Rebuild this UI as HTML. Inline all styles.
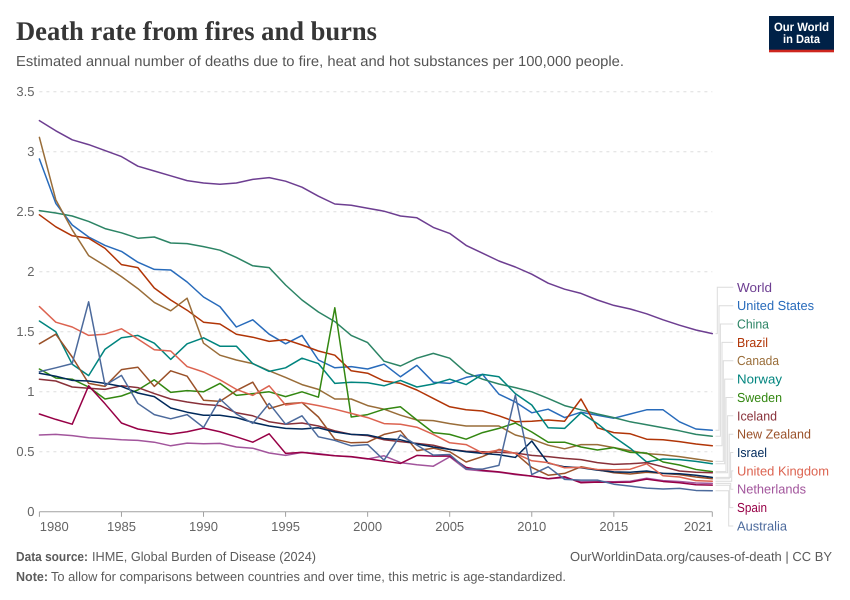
<!DOCTYPE html>
<html lang="en">
<head>
<meta charset="utf-8">
<title>Death rate from fires and burns</title>
<style>
html,body{margin:0;padding:0;background:#fff;}
svg{display:block;font-family:"Liberation Sans",sans-serif;text-rendering:geometricPrecision;}
</style>
</head>
<body>
<svg id="chart" xmlns="http://www.w3.org/2000/svg" width="850" height="600" viewBox="0 0 850 600">
  <rect width="850" height="600" fill="#fff"/>
  <text x="16" y="40" font-family="'Liberation Serif',serif" font-weight="700" font-size="27" fill="#363636" textLength="361" lengthAdjust="spacingAndGlyphs">Death rate from fires and burns</text>
  <text x="16" y="66" font-size="14.5" fill="#555" textLength="608" lengthAdjust="spacingAndGlyphs">Estimated annual number of deaths due to fire, heat and hot substances per 100,000 people.</text>

  <g>
    <rect x="769" y="16" width="65" height="36" fill="#002147"/>
    <rect x="769" y="49.7" width="65" height="2.6" fill="#CE261E"/>
    <text x="801.5" y="31" text-anchor="middle" font-size="12" font-weight="700" fill="#fff" textLength="55" lengthAdjust="spacingAndGlyphs">Our World</text>
    <text x="801.5" y="43" text-anchor="middle" font-size="12" font-weight="700" fill="#fff" textLength="37" lengthAdjust="spacingAndGlyphs">in Data</text>
  </g>

  <g id="grid"></g>
  <g id="yticks"></g>
  <g id="xaxis"></g>
  <g id="connectors" fill="none" stroke="#dcdcdc" stroke-width="1"></g>
  <g id="lines" fill="none" stroke-width="1.5" stroke-linejoin="round" stroke-linecap="round"></g>

  <g font-size="13">
    <text x="737" y="291.8" fill="#6D3E91" textLength="35" lengthAdjust="spacingAndGlyphs">World</text>
    <text x="737" y="310.2" fill="#286BBB" textLength="77" lengthAdjust="spacingAndGlyphs">United States</text>
    <text x="737" y="328.5" fill="#2C8465" textLength="32" lengthAdjust="spacingAndGlyphs">China</text>
    <text x="737" y="346.9" fill="#B13507" textLength="31" lengthAdjust="spacingAndGlyphs">Brazil</text>
    <text x="737" y="365.2" fill="#996D39" textLength="42" lengthAdjust="spacingAndGlyphs">Canada</text>
    <text x="737" y="383.6" fill="#00847E" textLength="45" lengthAdjust="spacingAndGlyphs">Norway</text>
    <text x="737" y="401.9" fill="#338711" textLength="45" lengthAdjust="spacingAndGlyphs">Sweden</text>
    <text x="737" y="420.3" fill="#883039" textLength="40" lengthAdjust="spacingAndGlyphs">Iceland</text>
    <text x="737" y="438.7" fill="#9A5129" textLength="74" lengthAdjust="spacingAndGlyphs">New Zealand</text>
    <text x="737" y="457" fill="#00295B" textLength="30" lengthAdjust="spacingAndGlyphs">Israel</text>
    <text x="737" y="475.4" fill="#DC6350" textLength="92" lengthAdjust="spacingAndGlyphs">United Kingdom</text>
    <text x="737" y="493.7" fill="#A2559C" textLength="69" lengthAdjust="spacingAndGlyphs">Netherlands</text>
    <text x="737" y="512.1" fill="#970046" textLength="30" lengthAdjust="spacingAndGlyphs">Spain</text>
    <text x="737" y="530.4" fill="#4C6A9C" textLength="50" lengthAdjust="spacingAndGlyphs">Australia</text>
  </g>

  <g font-size="13" fill="#5b5b5b">
    <text x="16" y="561" font-weight="700" textLength="72" lengthAdjust="spacingAndGlyphs">Data source:</text>
    <text x="92" y="561" textLength="224" lengthAdjust="spacingAndGlyphs">IHME, Global Burden of Disease (2024)</text>
    <text x="570" y="561" textLength="262" lengthAdjust="spacingAndGlyphs">OurWorldinData.org/causes-of-death | CC BY</text>
    <text x="16" y="581" font-weight="700" textLength="32" lengthAdjust="spacingAndGlyphs">Note:</text>
    <text x="51" y="581" textLength="515" lengthAdjust="spacingAndGlyphs">To allow for comparisons between countries and over time, this metric is age-standardized.</text>
  </g>
</svg>
<script>
const startYear = 1980;
const endYear = 2021;
const xTickYears = [1980, 1985, 1990, 1995, 2000, 2005, 2010, 2015, 2021];
const yTickValues = [0, 0.5, 1, 1.5, 2, 2.5, 3, 3.5];
const yTickLabels = ["0", "0.5", "1", "1.5", "2", "2.5", "3", "3.5"];

const world = [3.26,3.175,3.10,3.06,3.01,2.96,2.88,2.84,2.80,2.76,
  2.74,2.73,2.74,2.77,2.785,2.755,2.705,2.63,2.565,2.555,
  2.53,2.505,2.465,2.45,2.37,2.32,2.22,2.155,2.09,2.04,
  1.98,1.905,1.855,1.82,1.765,1.72,1.69,1.65,1.60,1.555,1.515,1.485];
const unitedStates = [2.94,2.57,2.39,2.29,2.22,2.17,2.08,2.02,2.015,1.915,
  1.79,1.71,1.54,1.60,1.48,1.40,1.47,1.265,1.20,1.21,
  1.19,1.23,1.125,1.22,1.08,1.07,1.12,1.145,0.98,0.915,
  0.825,0.855,0.785,0.83,0.805,0.78,0.815,0.85,0.85,0.75,0.69,0.68];
const china = [2.51,2.49,2.465,2.42,2.36,2.325,2.28,2.29,2.24,2.235,
  2.21,2.18,2.12,2.05,2.035,1.89,1.765,1.665,1.585,1.47,
  1.41,1.255,1.215,1.28,1.32,1.28,1.16,1.105,1.065,1.035,
  1.00,0.945,0.885,0.85,0.815,0.785,0.75,0.725,0.70,0.675,0.645,0.63];
const brazil = [2.475,2.375,2.30,2.28,2.195,2.06,2.035,1.865,1.765,1.68,
  1.58,1.565,1.48,1.455,1.42,1.435,1.39,1.34,1.305,1.175,
  1.155,1.09,1.07,1.015,0.945,0.875,0.85,0.84,0.80,0.75,
  0.755,0.765,0.755,0.94,0.70,0.66,0.65,0.605,0.60,0.585,0.565,0.55];
const canada = [3.12,2.60,2.35,2.135,2.05,1.96,1.86,1.745,1.675,1.78,
  1.405,1.305,1.265,1.235,1.175,1.12,1.06,1.02,0.94,0.94,
  0.885,0.855,0.805,0.765,0.76,0.735,0.715,0.715,0.715,0.64,
  0.605,0.555,0.525,0.56,0.56,0.535,0.51,0.485,0.475,0.46,0.44,0.42];
const norway = [1.59,1.50,1.23,1.135,1.355,1.45,1.47,1.405,1.27,1.40,
  1.45,1.38,1.38,1.235,1.17,1.20,1.28,1.235,1.07,1.08,
  1.075,1.05,1.095,1.04,1.065,1.105,1.06,1.145,1.125,0.985,
  0.89,0.70,0.695,0.825,0.735,0.625,0.53,0.415,0.44,0.435,0.42,0.40];
const sweden = [1.19,1.115,1.105,1.04,0.94,0.965,1.015,1.10,0.995,1.01,
  1.00,1.07,0.97,0.985,1.00,0.96,1.00,0.955,1.70,0.79,
  0.81,0.855,0.875,0.765,0.66,0.645,0.605,0.66,0.695,0.74,
  0.665,0.58,0.58,0.54,0.515,0.535,0.495,0.49,0.415,0.39,0.353,0.335];
const iceland = [1.105,1.09,1.04,1.03,1.02,1.05,1.035,0.985,0.94,0.915,
  0.895,0.885,0.825,0.80,0.75,0.73,0.74,0.715,0.675,0.645,
  0.635,0.60,0.585,0.57,0.555,0.52,0.505,0.50,0.495,0.49,
  0.47,0.46,0.445,0.435,0.41,0.395,0.40,0.41,0.375,0.34,0.33,0.325];
const newZealand = [1.40,1.48,1.29,1.07,1.045,1.185,1.205,1.045,1.175,1.13,
  0.93,0.92,1.01,1.08,0.86,0.90,0.91,0.79,0.605,0.575,
  0.58,0.645,0.675,0.51,0.53,0.50,0.415,0.46,0.52,0.487,
  0.37,0.305,0.32,0.375,0.35,0.325,0.315,0.33,0.32,0.31,0.29,0.275];
const israel = [1.155,1.13,1.095,1.09,1.07,1.045,0.99,0.96,0.865,0.83,
  0.805,0.805,0.785,0.745,0.715,0.695,0.69,0.70,0.665,0.645,
  0.64,0.61,0.60,0.565,0.54,0.52,0.50,0.487,0.475,0.453,
  0.59,0.405,0.375,0.367,0.347,0.333,0.33,0.34,0.32,0.317,0.305,0.287];
const unitedKingdom = [1.71,1.58,1.54,1.47,1.48,1.525,1.44,1.35,1.34,1.21,
  1.165,1.10,1.02,0.97,1.05,0.89,0.91,0.885,0.855,0.82,
  0.785,0.735,0.73,0.705,0.645,0.575,0.56,0.49,0.515,0.487,
  0.425,0.41,0.367,0.37,0.353,0.35,0.355,0.40,0.30,0.29,0.26,0.255];
const netherlands = [0.64,0.645,0.635,0.617,0.61,0.60,0.595,0.58,0.55,0.572,
  0.567,0.57,0.54,0.53,0.49,0.47,0.495,0.485,0.467,0.458,
  0.44,0.467,0.41,0.392,0.38,0.458,0.353,0.34,0.33,0.31,
  0.297,0.275,0.285,0.25,0.253,0.25,0.255,0.28,0.26,0.253,0.24,0.237];
const spain = [0.815,0.77,0.73,1.05,0.90,0.74,0.69,0.667,0.647,0.667,
  0.697,0.667,0.625,0.58,0.65,0.487,0.495,0.48,0.467,0.46,
  0.442,0.422,0.403,0.47,0.464,0.464,0.37,0.345,0.333,0.314,
  0.297,0.275,0.292,0.242,0.247,0.245,0.247,0.272,0.253,0.242,0.225,0.222];
const australia = [1.167,1.20,1.235,1.75,1.055,1.137,0.903,0.81,0.775,0.81,
  0.703,0.94,0.815,0.737,0.903,0.73,0.80,0.625,0.595,0.55,
  0.56,0.43,0.64,0.556,0.472,0.478,0.358,0.356,0.387,0.972,
  0.31,0.375,0.27,0.264,0.264,0.23,0.214,0.197,0.19,0.195,0.178,0.175];

const seriesNames = ["World","United States","China","Brazil","Canada","Norway","Sweden","Iceland","New Zealand","Israel","United Kingdom","Netherlands","Spain","Australia"];
const seriesValues = [world,unitedStates,china,brazil,canada,norway,sweden,iceland,newZealand,israel,unitedKingdom,netherlands,spain,australia];
const seriesColors = ["#6D3E91","#286BBB","#2C8465","#B13507","#996D39","#00847E","#338711","#883039","#9A5129","#00295B","#DC6350","#A2559C","#970046","#4C6A9C"];

const NS = "http://www.w3.org/2000/svg";
const plot = {left: 39.4, right: 712.3, bottom: 511.8, top: 91.8, maxY: 3.5};
function xScale(year) { return plot.left + (year - startYear) / (endYear - startYear) * (plot.right - plot.left); }
function yScale(v) { return plot.bottom - v / plot.maxY * (plot.bottom - plot.top); }
function make(tag, parent) { const el = document.createElementNS(NS, tag); parent.appendChild(el); return el; }
function slug(s) { return s.toLowerCase().replace(/\s+/g, "-"); }

const gridG = document.getElementById("grid");
const yG = document.getElementById("yticks");
yTickValues.forEach(function (v, i) {
  const y = yScale(v);
  if (v !== 0) {
    const g = make("line", gridG);
    
    
    g.setAttribute("x1", plot.left); g.setAttribute("x2", plot.right);
    g.setAttribute("y1", y); g.setAttribute("y2", y);
    g.setAttribute("stroke", "#dedede"); g.setAttribute("stroke-width", "1");
    g.setAttribute("stroke-dasharray", "3 4");
  }
  const t = make("text", yG);
  
  
  t.setAttribute("x", 34.5); t.setAttribute("y", y + 4.3);
  t.setAttribute("text-anchor", "end"); t.setAttribute("font-size", "13"); t.setAttribute("fill", "#666");
  t.textContent = yTickLabels[i];
});

const xG = document.getElementById("xaxis");
const axisLine = make("line", xG);


axisLine.setAttribute("x1", plot.left); axisLine.setAttribute("x2", plot.right);
axisLine.setAttribute("y1", plot.bottom); axisLine.setAttribute("y2", plot.bottom);
axisLine.setAttribute("stroke", "#a1a1a1"); axisLine.setAttribute("stroke-width", "1");
xTickYears.forEach(function (yr, i) {
  const x = xScale(yr);
  const tick = make("line", xG);
  
  
  tick.setAttribute("x1", x); tick.setAttribute("x2", x);
  tick.setAttribute("y1", plot.bottom); tick.setAttribute("y2", plot.bottom + 5);
  tick.setAttribute("stroke", "#a1a1a1"); tick.setAttribute("stroke-width", "1");
  const t = make("text", xG);
  
  
  const first = i === 0, last = i === xTickYears.length - 1;
  t.setAttribute("x", first ? x + 0.4 : last ? x + 0.5 : x);
  t.setAttribute("y", 531);
  t.setAttribute("text-anchor", first ? "start" : last ? "end" : "middle");
  t.setAttribute("font-size", "13"); t.setAttribute("fill", "#666");
  t.textContent = String(yr);
});

const connG = document.getElementById("connectors");
const connectorElbows = [717.3,719,720.4,722,723.3,724.7,726,727.6,729.2,730.6,731.7,730.7,729.7,728.7];
seriesValues.forEach(function (vals, i) {
  const yEnd = yScale(vals[vals.length - 1]);
  const yLabel = 287.3 + i * 18.36;
  const xv = connectorElbows[i];
  const p = make("path", connG);
  
  
  p.setAttribute("d", "M715.5 " + yEnd.toFixed(1) + "H" + xv + "V" + yLabel.toFixed(1) + "H733.3");
});

const linesG = document.getElementById("lines");
seriesValues.forEach(function (vals, i) {
  const d = vals.map(function (v, k) {
    return (k ? "L" : "M") + xScale(startYear + k).toFixed(2) + " " + yScale(v).toFixed(2);
  }).join("");
  const path = make("path", linesG);
  
  
  path.setAttribute("d", d);
  path.setAttribute("stroke", seriesColors[i]);
});
</script>
</body>
</html>
